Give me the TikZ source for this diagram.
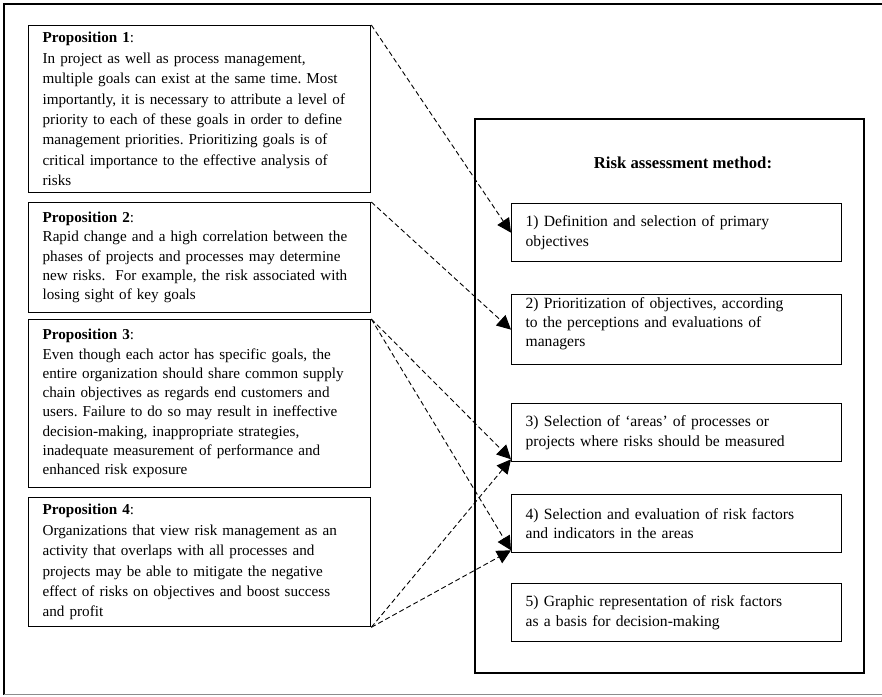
\documentclass[tikz,border=0pt]{standalone}
\usepackage{fontspec}
\setmainfont{Liberation Serif}
\usetikzlibrary{arrows.meta}
\frenchspacing

\tikzset{
  txt/.style={font=\fontsize{15.6pt}{19.3pt}\selectfont},
  proptxt/.style={font=\fontsize{15.15pt}{19.3pt}\selectfont},
  widetxt/.style={font=\fontsize{15.15pt}{20.4pt}\selectfont},
  propbox/.style={draw, line width=1.3pt, align=left, anchor=north west,
    inner xsep=14pt, inner ysep=0pt, text width=314pt, minimum width=342pt},
  stepbox/.style={txt, draw, line width=1.3pt, align=left, anchor=north west,
    inner xsep=14pt, inner ysep=0pt, text width=302pt, minimum width=330pt},
  link/.style={line width=0.9pt, dash pattern=on 5pt off 3pt,
    -{Triangle[length=14pt,width=14pt]}}
}

\begin{document}
\begin{tikzpicture}[x=1pt,y=-1pt]
\useasboundingbox (0,0) rectangle (882,696);

% outer frame, open to the right
\draw[line width=1.4pt] (890,4) -- (4,4) -- (4,694.5);
\draw[line width=1.3pt, black!45] (4,694.5) -- (890,694.5);

% propositions
\node[propbox, widetxt, minimum height=167pt] (p1) at (28,25)
  {\textbf{Proposition 1}:\\
   In project as well as process management,\\
   multiple goals can exist at the same time. Most\\
   importantly, it is necessary to attribute a level of\\
   priority to each of these goals in order to define\\
   management priorities. Prioritizing goals is of\\
   critical importance to the effective analysis of\\
   risks};
\node[propbox, proptxt, minimum height=110pt] (p2) at (28,202)
  {\textbf{Proposition 2}:\\
   Rapid change and a high correlation between the\\
   phases of projects and processes may determine\\
   new risks.\ \ For example, the risk associated with\\
   losing sight of key goals};
\node[propbox, proptxt, minimum height=168pt] (p3) at (28,319)
  {\textbf{Proposition 3}:\\
   Even though each actor has specific goals, the\\
   entire organization should share common supply\\
   chain objectives as regards end customers and\\
   users. Failure to do so may result in ineffective\\
   decision-making, inappropriate strategies,\\
   inadequate measurement of performance and\\
   enhanced risk exposure};
\node[propbox, widetxt, minimum height=129pt] (p4) at (28,497)
  {\textbf{Proposition 4}:\\
   Organizations that view risk management as an\\
   activity that overlaps with all processes and\\
   projects may be able to mitigate the negative\\
   effect of risks on objectives and boost success\\
   and profit};

% method frame and its steps
\draw[line width=1.3pt] (475,119) rectangle (864,673);
\node[font=\fontsize{16.7pt}{20pt}\selectfont\bfseries] (title) at (683,163) {Risk assessment method:};

\node[stepbox, minimum height=58pt] (s1) at (511,203)
  {1) Definition and selection of primary\\objectives};
\node[stepbox, minimum height=70pt] (s2) at (511,294)
  {2) Prioritization of objectives, according\\to the perceptions and evaluations of\\managers\\[-3.7pt]\mbox{}};
\node[stepbox, minimum height=58pt] (s3) at (511,403)
  {3) Selection of `areas' of processes or\\projects where risks should be measured};
\node[stepbox, minimum height=58pt] (s4) at (511,494)
  {4) Selection and evaluation of risk factors\\and indicators in the areas};
\node[stepbox, minimum height=58pt] (s5) at (511,583)
  {5) Graphic representation of risk factors\\as a basis for decision-making};

% links from propositions to steps
\draw[link] (p1.north east) -- (s1.west);
\draw[link] (p2.north east) -- (s2.west);
\draw[link] (p3.north east) -- ([yshift=3pt]s3.south west);
\draw[link] (p3.north east) -- ([yshift=3pt]s4.south west);
\draw[link] (p4.south east) -- ([yshift=3pt]s3.south west);
\draw[link] (p4.south east) -- ([yshift=3pt]s4.south west);
\end{tikzpicture}
\end{document}
